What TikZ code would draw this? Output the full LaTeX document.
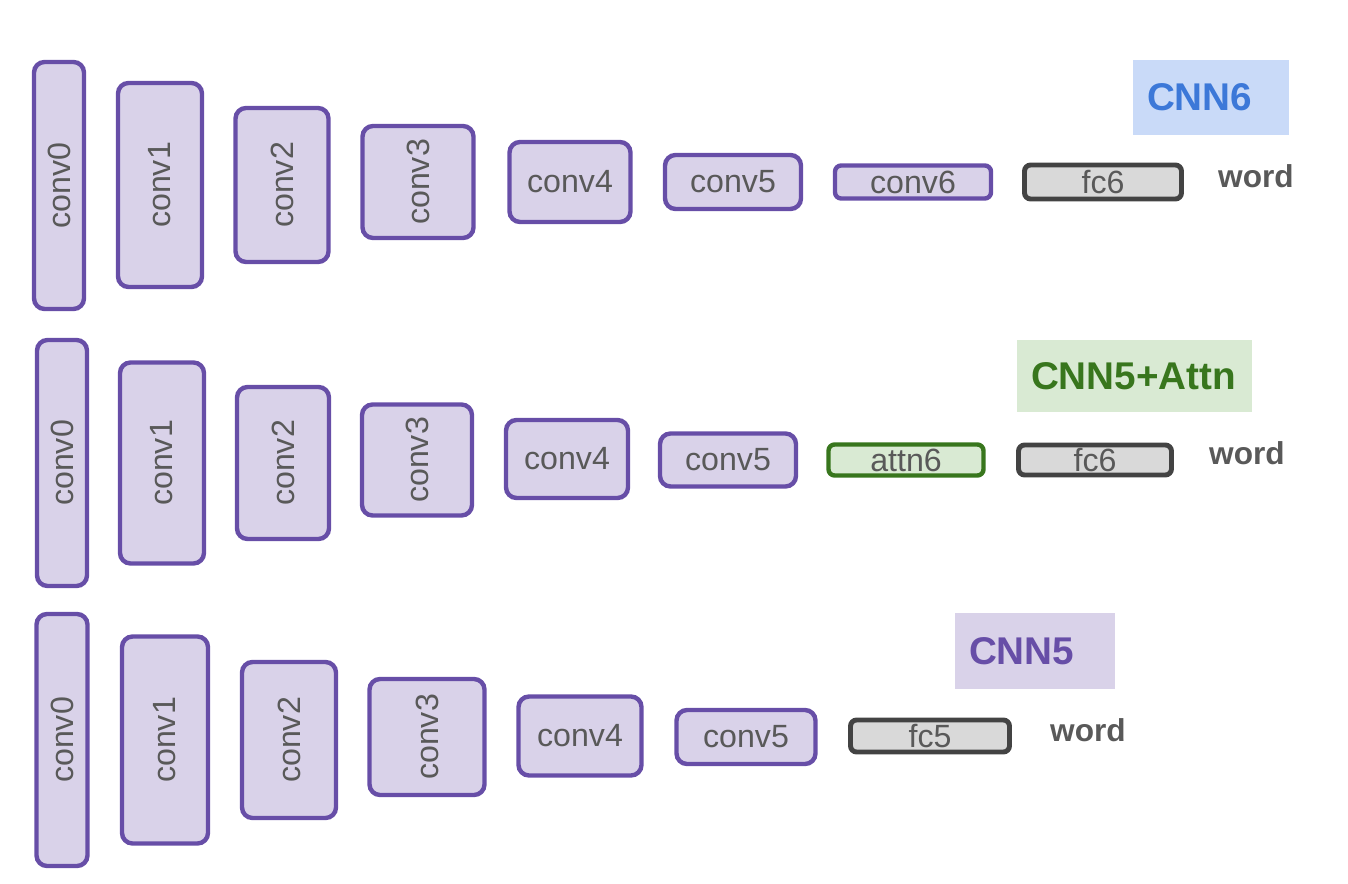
\documentclass[tikz,border=0pt]{standalone}
\usepackage{fontspec}
\setmainfont{Liberation Sans}
\usetikzlibrary{positioning}
\newlength\px
\setlength\px{0.02cm}
\definecolor{convline}{HTML}{674EA7}
\definecolor{convfill}{HTML}{D9D2E9}
\definecolor{fcline}{HTML}{434343}
\definecolor{fcfill}{HTML}{D9D9D9}
\definecolor{attnline}{HTML}{38761D}
\definecolor{attnfill}{HTML}{D9EAD3}
\definecolor{cnnblue}{HTML}{3C78D8}
\definecolor{cnnbluefill}{HTML}{C9DAF8}
\definecolor{boxtext}{HTML}{595959}

\begin{document}
\begin{tikzpicture}[x=0.02cm,y=-0.02cm,
                    conv node/.style={draw=convline,fill=convfill,line width=2.5pt,rounded corners=6pt,
                      inner sep=0pt,text=boxtext,font=\fontsize{18.3}{20}\selectfont},
                    tall node/.style={conv node,rotate=90},
                    fc node/.style={conv node,draw=fcline,fill=fcfill,line width=2.8pt,rounded corners=3.5pt},
                    attn node/.style={conv node,draw=attnline,fill=attnfill,rounded corners=3.5pt},
                    word node/.style={text=boxtext,font=\fontsize{18}{20}\selectfont\bfseries},
                    title node/.style={inner xsep=14\px,inner ysep=0pt,align=left,
                      font=\fontsize{22}{24}\selectfont\bfseries}]
\useasboundingbox (0,0) rectangle (1348,884);

% CNN6
\node[tall node,minimum width=247\px,minimum height=50\px] (a0) at (59,185.5) {conv0};
\node[tall node,minimum width=204\px,minimum height=84\px] (a1) at (160,185) {conv1};
\node[tall node,minimum width=154\px,minimum height=93\px] (a2) at (282,185) {conv2};
\node[tall node,minimum width=112\px,minimum height=111\px] (a3) at (418,182) {conv3};
\node[conv node,minimum width=121\px,minimum height=80\px] (a4) at (570,182) {conv4};
\node[conv node,minimum width=136\px,minimum height=54\px] (a5) at (733,182) {conv5};
\node[conv node,rounded corners=3.5pt,minimum width=156\px,minimum height=33\px] (a6) at (913,182) {conv6};
\node[fc node,minimum width=157\px,minimum height=34\px] (f1) at (1103,182) {fc6};
\node[word node] (w1) at (1256,176) {word};
\node[title node,fill=cnnbluefill,text=cnnblue,text width=128\px,minimum height=75\px] (t1) at (1211,97.5) {CNN6};

% CNN5+Attn
\node[tall node,minimum width=246\px,minimum height=50\px] (b0) at (62,463) {conv0};
\node[tall node,minimum width=201\px,minimum height=84\px] (b1) at (162,463) {conv1};
\node[tall node,minimum width=152\px,minimum height=92\px] (b2) at (283,463) {conv2};
\node[tall node,minimum width=111\px,minimum height=110\px] (b3) at (417,460) {conv3};
\node[conv node,minimum width=122\px,minimum height=78\px] (b4) at (567,459) {conv4};
\node[conv node,minimum width=136\px,minimum height=53\px] (b5) at (728,460) {conv5};
\node[attn node,minimum width=155\px,minimum height=31\px] (n2) at (906,460) {attn6};
\node[fc node,minimum width=153\px,minimum height=30\px] (f2) at (1095,460) {fc6};
\node[word node] (w2) at (1247,453) {word};
\node[title node,fill=attnfill,text=attnline,text width=207\px,minimum height=72\px] (t2) at (1134.5,376) {CNN5+Attn};

% CNN5
\node[tall node,minimum width=252\px,minimum height=51\px] (c0) at (62,740) {conv0};
\node[tall node,minimum width=207\px,minimum height=86\px] (c1) at (165,740) {conv1};
\node[tall node,minimum width=156\px,minimum height=94\px] (c2) at (289,740) {conv2};
\node[tall node,minimum width=116\px,minimum height=115\px] (c3) at (427,737) {conv3};
\node[conv node,minimum width=123\px,minimum height=79\px] (c4) at (580,736) {conv4};
\node[conv node,minimum width=139\px,minimum height=54\px] (c5) at (746,737) {conv5};
\node[fc node,minimum width=159\px,minimum height=32\px] (f3) at (930,736) {fc5};
\node[word node] (w3) at (1088,730) {word};
\node[title node,fill=convfill,text=convline,text width=132\px,minimum height=76\px] (t3) at (1035,651) {CNN5};
\end{tikzpicture}
\end{document}
